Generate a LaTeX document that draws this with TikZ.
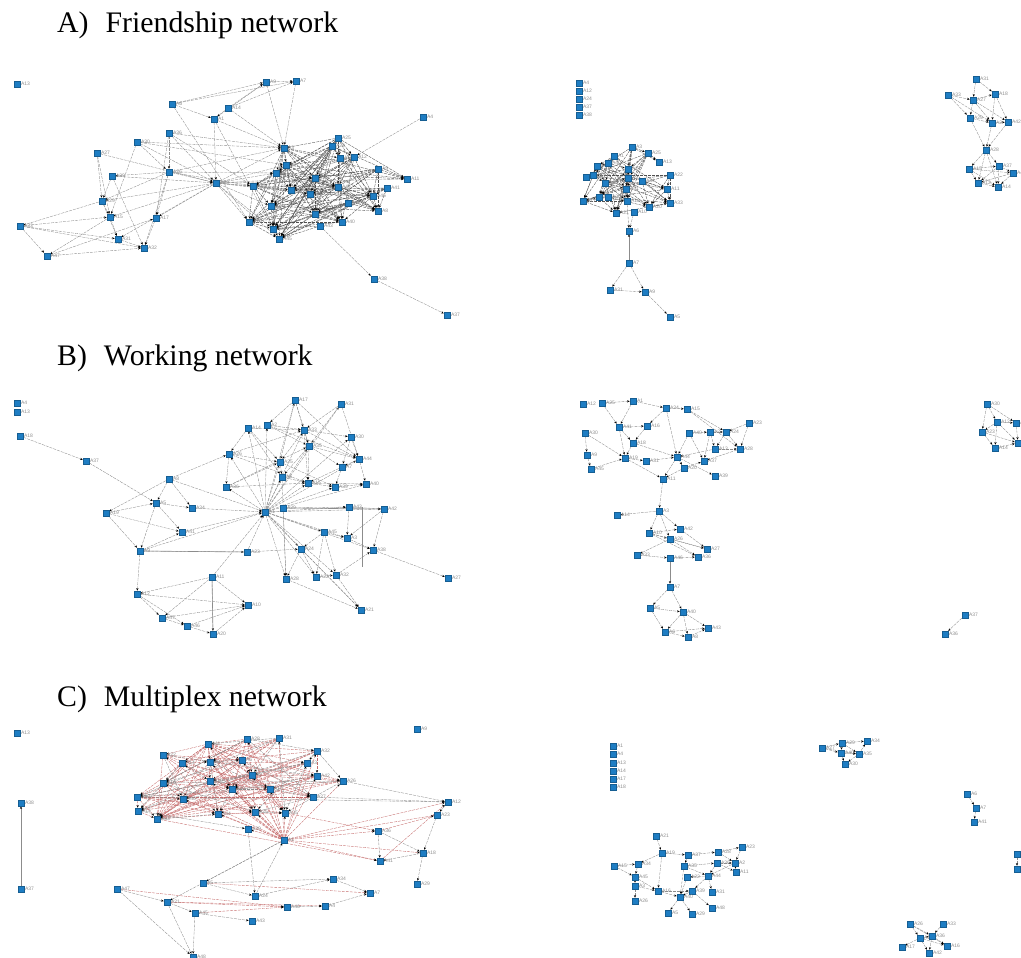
\documentclass[tikz,border=0pt]{standalone}
\usepackage{fontspec}
\setmainfont{Liberation Serif}
\setsansfont{Liberation Sans}
\usetikzlibrary{arrows.meta,backgrounds}
\definecolor{nb}{HTML}{1E7DC3}
\definecolor{eg}{HTML}{8C8C8C}
\definecolor{ek}{HTML}{505050}
\definecolor{er}{HTML}{C46A6A}
\definecolor{lg}{HTML}{8E8E8E}
\tikzset{
 nd/.style={rectangle,fill=nb,draw=nb!75!black,line width=0.2pt,minimum size=6.4pt,inner sep=0pt},
 lbl/.style={font=\sffamily\fontsize{5}{5.5}\selectfont,text=lg,inner sep=0.5pt},
 ed/.style={draw=eg,line width=0.35pt,dash pattern=on 3pt off 1pt,-{Stealth[length=2.6pt,width=2.2pt,color=black]}},
 edk/.style={ed,draw=ek},
 edr/.style={ed,draw=er},
 eds/.style={draw=eg,line width=0.7pt,-{Stealth[length=2.6pt,width=2.2pt,color=black]}},
 edl/.style={draw=eg,line width=0.6pt},
 ttl/.style={font=\fontsize{29.8}{34}\selectfont,inner sep=0pt,anchor=base west},
}
\newcommand\densecore[5]{%
 \foreach \u [count=\ci] in #1 {\foreach \v [count=\cj] in #1 {%
  \ifnum\cj>\ci\relax
   \pgfmathtruncatemacro\rr{mod(\ci*7+\cj*11+\ci*\cj+#5,#2)}%
   \ifnum\rr<#3\relax\draw[#4] (\u) -- (\v);\fi
  \fi}}}
\def\coreA{fa8,fa9,fa10,fa11,fa12,fa16,fa19,fa20,fa21,fa23,fa24,fa25,fa26,fa27,fa28,fa29,fa31,fa32,fa33,fa34,fa37,fa38,fa39,fa40,fa41}
\def\coreM{fm6,fm7,fm8,fm9,fm10,fm11,fm12,fm13,fm14,fm15,fm16,fm17,fm18,fm19,fm20,fm21,fm22,fm23,fm24,fm25,fm26,fm27,fm28}
\def\coreC{ma5,ma6,ma7,ma8,ma9,ma10,ma11,ma12,ma13,ma14,ma15,ma16,ma17,ma18,ma19,ma20,ma21,ma22,ma23,ma24,ma25,ma26,ma27,ma28}
\begin{document}
\begin{tikzpicture}[x=1pt,y=-1pt]
\useasboundingbox (0,0) rectangle (1021,958);
% titles
\node[ttl] (tA) at (57,32.5) {A)\hspace{17pt}Friendship network};
\node[ttl] (tB) at (57,365) {B)\hspace{17pt}Working network};
\node[ttl] (tC) at (57,706) {C)\hspace{17pt}Multiplex network};
% ---------------- A: friendship, left component
\foreach \n/\x/\y/\lb in {fa1/17/84/A13,fa2/266/82/A9,fa3/296/81/A7,fa4/172/104/A6,fa5/228/108/A14,fa6/214/119/A1,fa7/423/117/A4,fa8/338/138/A25,fa9/284/148/A3,fa10/332/146/A22,fa11/340/158/A10,fa12/354/157/A12,fa13/169/133/A36,fa14/137/142/A30,fa15/97/153/A27,fa16/286/165/A2,fa17/169/172/A26,fa18/112/176/A39,fa19/276/173/A21,fa20/378/169/A5,fa21/407/179/A11,fa22/216/183/A28,fa23/253/186/A35,fa24/315/178/A16,fa25/338/187/A44,fa26/387/188/A41,fa27/291/190/A18,fa28/310/194/A20,fa29/373/196/A46,fa30/102/201/A29,fa31/271/206/A24,fa32/348/203/A42,fa33/378/211/A8,fa34/315/214/A34,fa35/110/217/A15,fa36/156/218/A17,fa37/249/222/A19,fa38/342/222/A40,fa39/320/226/A43,fa40/273/229/A23,fa41/279/239/A45,fa42/20/226/A33,fa43/118/239/A31,fa44/144/248/A32,fa45/47/256/A47,fa46/374/279/A38,fa47/447/315/A37}
 \node[nd,label={[lbl]right:\lb}] (\n) at (\x,\y) {};
% A middle component
\foreach \n/\x/\y/\lb in {fm1/579/83/A4,fm2/579/91/A12,fm3/579/99/A24,fm4/579/107/A37,fm5/579/115/A38,fm6/632/147/A3,fm7/648/153/A25,fm8/614/156/A1,fm9/659/162/A13,fm10/597/166/A19,fm11/608/163/A40,fm12/628/169/A27,fm13/670/175/A22,fm14/586/177/A16,fm15/593/175/A15,fm16/605/183/A14,fm17/628/178/A2,fm18/642/181/A44,fm19/626/189/A41,fm20/667/189/A11,fm21/583/201/A17,fm22/599/197/A28,fm23/608/197/A30,fm24/627/201/A18,fm25/649/207/A20,fm26/670/203/A33,fm27/616/213/A21,fm28/634/212/A10,fm29/629/231/A6,fm30/629/263/A7,fm31/610/290/A31,fm32/645/292/A9,fm33/670/317/A5}
 \node[nd,label={[lbl]right:\lb}] (\n) at (\x,\y) {};
% A right component
\foreach \n/\x/\y/\lb in {fr1/976/79/A31,fr2/948/95/A33,fr3/973/100/A27,fr4/995/94/A18,fr5/970/118/A29,fr6/992/123/A2,fr7/1008/122/A42,fr8/986/150/A28,fr9/969/169/A15,fr10/999/166/A37,fr11/1013/173/A4,fr12/978/183/A12,fr13/998/187/A14}
 \node[nd,label={[lbl]right:\lb}] (\n) at (\x,\y) {};
% ---------------- B: working
\foreach \n/\x/\y/\lb in {wa1/17/403/A4,wa2/17/412/A13,wa3/20/436/A18,wa4/86/461/A37,wa5/295/400/A17,wa6/341/404/A31,wa7/248/428/A14,wa8/267/425/A2,wa9/304/430/A33,wa10/351/437/A30,wa11/309/446/A35,wa12/229/454/A26,wa13/359/459/A44,wa14/280/462/A25,wa15/342/467/A7,wa16/282/477/A6,wa17/226/487/A36,wa18/308/483/A15,wa19/335/487/A39,wa20/366/484/A40,wa21/169/479/A8,wa22/156/503/A5,wa23/106/513/A19,wa24/192/508/A34,wa25/265/512/A1,wa26/283/508/A29,wa27/349/507/A43,wa28/384/509/A42,wa29/182/532/A41,wa30/324/532/A45,wa31/347/538/A3,wa32/140/551/A9,wa33/247/552/A23,wa34/301/549/A24,wa35/373/550/A38,wa36/286/579/A28,wa37/316/577/A22,wa38/336/575/A32,wa39/448/578/A27,wa40/212/577/A11,wa41/137/594/A12,wa42/248/605/A10,wa43/361/610/A21,wa44/162/618/A47,wa45/187/626/A46,wa46/213/634/A20}
 \node[nd,label={[lbl]right:\lb}] (\n) at (\x,\y) {};
\foreach \n/\x/\y/\lb in {wm1/583/404/A12,wm2/602/403/A25,wm3/633/401/A1,wm4/666/408/A34,wm5/687/409/A15,wm6/749/423/A23,wm7/619/427/A41,wm8/647/426/A16,wm9/689/433/A40,wm10/710/432/A2,wm11/726/432/A24,wm12/585/433/A30,wm13/633/443/A18,wm14/715/449/A13,wm15/740/449/A28,wm16/587/455/A9,wm17/625/458/A19,wm18/646/461/A31,wm19/677/457/A44,wm20/704/461/A37,wm21/684/468/A20,wm22/591/469/A45,wm23/715/476/A39,wm24/663/479/A11,wm25/659/511/A3,wm26/617/515/A14,wm27/649/533/A10,wm28/680/529/A42,wm29/670/539/A26,wm30/707/549/A27,wm31/637/555/A33,wm32/670/558/A46,wm33/698/557/A36,wm34/670/587/A7,wm35/650/608/A5,wm36/683/612/A40,wm37/665/632/A6,wm38/688/637/A8,wm39/708/628/A43}
 \node[nd,label={[lbl]right:\lb}] (\n) at (\x,\y) {};
\foreach \n/\x/\y/\lb in {wr1/987/404/A30,wr2/997/422/A12,wr3/1016/423/A3,wr4/982/432/A23,wr5/1018/443/A31,wr6/995/448/A14,wr7/965/615/A37,wr8/945/634/A36}
 \node[nd,label={[lbl]right:\lb}] (\n) at (\x,\y) {};
% ---------------- C: multiplex
\foreach \n/\x/\y/\lb in {ma1/17/733/A13,ma2/417/729/A9,ma3/21/803/A38,ma4/21/889/A37,ma5/247/739/A28,ma6/279/738/A31,ma7/208/744/A11,ma8/163/755/A22,ma9/317/751/A32,ma10/182/763/A14,ma11/210/762/A8,ma12/242/760/A6,ma13/307/763/A3,ma14/252/775/A2,ma15/317/776/A42,ma16/163/783/A16,ma17/210/781/A19,ma18/232/789/A20,ma19/270/789/A10,ma20/343/781/A26,ma21/137/797/A30,ma22/183/799/A40,ma23/313/797/A27,ma24/138/811/A15,ma25/157/819/A33,ma26/218/814/A44,ma27/255/812/A25,ma28/285/813/A35,ma29/448/802/A12,ma30/437/815/A23,ma31/248/829/A39,ma32/284/840/A1,ma33/378/831/A36,ma34/423/853/A18,ma35/380/861/A41,ma36/417/884/A29,ma37/333/879/A34,ma38/203/883/A5,ma39/255/896/A24,ma40/370/893/A7,ma41/117/889/A47,ma42/167/902/A21,ma43/325/906/A4,ma44/195/913/A45,ma45/287/907/A46,ma46/252/921/A43,ma47/193/957/A48}
 \node[nd,label={[lbl]right:\lb}] (\n) at (\x,\y) {};
\foreach \n/\x/\y/\lb in {mm1/613/746/A1,mm2/613/754/A4,mm3/613/763/A13,mm4/613/771/A14,mm5/613/779/A17,mm6/613/787/A18,mm7/656/836/A21,mm8/662/853/A19,mm9/688/855/A37,mm10/718/852/A28,mm11/742/847/A23,mm12/614/866/A15,mm13/638/864/A34,mm14/684/866/A35,mm15/717/863/A36,mm16/735/863/A2,mm17/635/877/A45,mm18/687/877/A22,mm19/708/876/A44,mm20/736/872/A11,mm21/635/886/A3,mm22/658/891/A16,mm23/692/891/A39,mm24/680/897/A40,mm25/712/892/A31,mm26/635/901/A26,mm27/668/913/A5,mm28/692/914/A29,mm29/712/908/A48}
 \node[nd,label={[lbl]right:\lb}] (\n) at (\x,\y) {};
\foreach \n/\x/\y/\lb in {mt1/822/748/A27,mt2/842/743/A29,mt3/867/741/A34,mt4/841/753/A40,mt5/859/754/A35,mt6/845/764/A30,mr1/967/794/A6,mr2/976/808/A7,mr3/974/822/A41,mr4/1017/854/A9,mr5/1017/869/A10,mb1/910/924/A26,mb2/943/924/A33,mb3/920/938/A11,mb4/932/936/A36,mb5/947/946/A16,mb6/902/947/A17,mb7/929/953/A42}
 \node[nd,label={[lbl]right:\lb}] (\n) at (\x,\y) {};
\coordinate (wv1) at (362,507);
\coordinate (wv2) at (362,567);
% ================= edges
\begin{pgfonlayer}{background}
% A left
\densecore{\coreA}{5}{3}{edk}{0}
\foreach \s/\e in {fa4/fa2,fa4/fa3,fa5/fa2,fa5/fa3,fa6/fa2,fa2/fa3,fa2/fa9,fa3/fa9,fa4/fa6,fa4/fa37,fa6/fa22,fa6/fa9,fa5/fa9,fa6/fa40,fa5/fa6,fa13/fa22,fa13/fa36,fa13/fa9,fa14/fa9,fa14/fa35,fa15/fa22,fa15/fa30,fa17/fa22,fa17/fa18,fa17/fa30,fa17/fa44,fa18/fa44,fa18/fa30,fa22/fa30,fa22/fa35,fa22/fa43,fa22/fa36,fa22/fa23,fa22/fa9,fa22/fa19,fa22/fa37,fa22/fa16,fa22/fa24,fa22/fa27,fa22/fa28,fa22/fa21,fa22/fa31,fa22/fa41,fa22/fa40,fa30/fa35,fa30/fa42,fa30/fa43,fa35/fa43,fa35/fa45,fa42/fa44,fa42/fa43,fa42/fa45,fa45/fa44,fa43/fa44,fa42/fa35,fa36/fa44,fa45/fa36,fa7/fa12,fa39/fa46,fa46/fa47,fa17/fa9,fa14/fa17,fa15/fa35,fa17/fa19,fa17/fa23,fa17/fa36,fa14/fa22,fa13/fa17,fa18/fa22,fa13/fa23,fa14/fa16}
 \draw[ed] (\s) -- (\e);
% A middle
\densecore{\coreM}{5}{2}{edk}{0}
\foreach \s/\e in {fm28/fm29,fm24/fm29,fm30/fm31,fm30/fm32,fm31/fm32,fm32/fm33}
 \draw[ed] (\s) -- (\e);
\draw[eds] (fm30) -- (fm29);
% A right
\foreach \s/\e in {fr1/fr3,fr1/fr4,fr2/fr3,fr2/fr5,fr3/fr4,fr3/fr5,fr3/fr6,fr3/fr7,fr4/fr6,fr4/fr7,fr5/fr6,fr5/fr8,fr6/fr7,fr6/fr8,fr7/fr8,fr2/fr6,fr8/fr9,fr8/fr10,fr8/fr12,fr8/fr13,fr9/fr10,fr9/fr12,fr9/fr13,fr10/fr11,fr10/fr13,fr11/fr12,fr12/fr13,fr11/fr13,fr9/fr11,fr10/fr12}
 \draw[ed] (\s) -- (\e);
% B left
\foreach \s/\e in {wa3/wa4,wa4/wa22,wa21/wa23,wa21/wa22,wa21/wa24,wa21/wa25,wa23/wa22,wa23/wa29,wa23/wa32,wa22/wa24,wa22/wa29,wa22/wa32,wa24/wa25,wa29/wa25,wa32/wa29,wa32/wa25,wa32/wa33,wa32/wa41,wa33/wa25,wa33/wa34,wa40/wa25,wa40/wa41,wa40/wa42,wa40/wa46,wa40/wa44,wa41/wa44,wa41/wa45,wa41/wa42,wa44/wa45,wa44/wa42,wa45/wa46,wa45/wa42,wa46/wa42,wa25/wa5,wa25/wa7,wa25/wa8,wa25/wa9,wa25/wa11,wa25/wa12,wa25/wa14,wa25/wa16,wa25/wa17,wa25/wa18,wa25/wa19,wa25/wa13,wa25/wa10,wa25/wa20,wa25/wa27,wa25/wa28,wa25/wa30,wa25/wa31,wa25/wa34,wa25/wa36,wa25/wa37,wa25/wa38,wa25/wa35,wa25/wa43,wa25/wa6,wa5/wa8,wa5/wa9,wa5/wa11,wa5/wa14,wa6/wa9,wa6/wa11,wa7/wa9,wa7/wa12,wa7/wa14,wa8/wa9,wa8/wa13,wa9/wa10,wa9/wa13,wa9/wa11,wa9/wa14,wa9/wa18,wa10/wa13,wa11/wa13,wa11/wa15,wa11/wa18,wa11/wa16,wa12/wa14,wa12/wa17,wa12/wa18,wa13/wa20,wa13/wa15,wa14/wa16,wa14/wa19,wa15/wa18,wa15/wa19,wa16/wa18,wa17/wa14,wa17/wa18,wa18/wa19,wa18/wa20,wa19/wa20,wa10/wa15,wa7/wa16,wa6/wa13,wa8/wa11,wa5/wa13,wa12/wa9,wa17/wa11,wa26/wa27,wa27/wa28,wa27/wa31,wa30/wa31,wa30/wa37,wa30/wa38,wa31/wa35,wa28/wa35,wa28/wa31,wa35/wa39,wa30/wa34,wa34/wa36,wa34/wa37,wa36/wa43,wa37/wa38,wa38/wa35,wa38/wa43,wa34/wa43,wa26/wa36,wa16/wa36,wa21/wa12}
 \draw[ed] (\s) -- (\e);
\draw[edl] (wa26) -- (wa28);
\draw[edl] (wa32) -- (wa33);
\draw[edl] (wv1) -- (wv2);
\draw[edl] (wa40) -- (wa46);
% B middle
\foreach \s/\e in {wm2/wm3,wm2/wm7,wm3/wm4,wm3/wm7,wm4/wm5,wm4/wm8,wm4/wm19,wm5/wm11,wm7/wm8,wm7/wm13,wm7/wm17,wm12/wm16,wm12/wm17,wm16/wm22,wm22/wm17,wm13/wm17,wm13/wm19,wm17/wm18,wm17/wm24,wm9/wm20,wm9/wm19,wm10/wm11,wm10/wm14,wm10/wm20,wm11/wm14,wm11/wm15,wm6/wm15,wm6/wm11,wm14/wm15,wm14/wm19,wm15/wm20,wm19/wm21,wm19/wm23,wm19/wm24,wm21/wm20,wm21/wm24,wm24/wm25,wm25/wm26,wm25/wm27,wm25/wm28,wm25/wm29,wm27/wm28,wm27/wm29,wm27/wm30,wm29/wm30,wm29/wm31,wm29/wm33,wm31/wm32,wm32/wm33,wm27/wm33,wm28/wm30,wm34/wm35,wm34/wm36,wm35/wm36,wm35/wm37,wm36/wm37,wm36/wm38,wm36/wm39,wm37/wm38,wm37/wm39,wm38/wm39,wm18/wm19,wm5/wm15,wm8/wm13,wm9/wm10}
 \draw[ed] (\s) -- (\e);
\draw[eds] (wm32) -- (wm34);
% B right
\foreach \s/\e in {wr1/wr2,wr1/wr3,wr1/wr4,wr2/wr3,wr2/wr4,wr2/wr6,wr3/wr5,wr4/wr6,wr4/wr5,wr6/wr5,wr2/wr5,wr7/wr8}
 \draw[ed] (\s) -- (\e);
% C left
\densecore{\coreC}{7}{2}{edr}{0}
\densecore{\coreC}{7}{1}{ed}{3}
\foreach \s/\e in {ma32/ma5,ma32/ma6,ma32/ma7,ma32/ma9,ma32/ma10,ma32/ma11,ma32/ma12,ma32/ma13,ma32/ma14,ma32/ma15,ma32/ma17,ma32/ma18,ma32/ma19,ma32/ma20,ma32/ma22,ma32/ma26,ma32/ma27,ma32/ma28,ma32/ma29,ma32/ma30,ma32/ma33,ma32/ma35,ma32/ma34,ma32/ma31,ma32/ma8,ma32/ma16}
 \draw[edr] (\s) -- (\e);
\foreach \s/\e in {ma21/ma29,ma23/ma29,ma24/ma31,ma29/ma30,ma30/ma34,ma33/ma34,ma33/ma35,ma34/ma35,ma34/ma36,ma20/ma29,ma38/ma37,ma38/ma39,ma39/ma37,ma39/ma32,ma41/ma42,ma41/ma47,ma42/ma44,ma42/ma47,ma44/ma46,ma44/ma47,ma43/ma40,ma45/ma43,ma31/ma39,ma32/ma42,ma32/ma38,ma37/ma40,ma14/ma21,ma5/ma16,ma9/ma24}
 \draw[ed] (\s) -- (\e);
\foreach \s/\e in {ma38/ma40,ma41/ma45,ma42/ma45,ma44/ma45,ma42/ma43,ma33/ma30,ma35/ma29,ma28/ma33,ma25/ma35}
 \draw[edr] (\s) -- (\e);
\draw[eds] (ma4) -- (ma3);
% C middle
\foreach \s/\e in {mm7/mm8,mm8/mm9,mm8/mm13,mm8/mm22,mm9/mm10,mm9/mm14,mm10/mm11,mm10/mm16,mm11/mm16,mm12/mm13,mm12/mm17,mm13/mm17,mm17/mm21,mm21/mm22,mm21/mm26,mm22/mm24,mm14/mm15,mm14/mm19,mm14/mm24,mm15/mm19,mm15/mm16,mm16/mm19,mm16/mm20,mm15/mm20,mm19/mm23,mm19/mm25,mm23/mm24,mm24/mm27,mm24/mm28,mm23/mm29,mm19/mm18,mm18/mm24,mm22/mm23,mm17/mm22}
 \draw[ed] (\s) -- (\e);
% C right
\foreach \s/\e in {mt1/mt2,mt1/mt4,mt2/mt3,mt2/mt4,mt2/mt5,mt4/mt5,mt4/mt6,mt5/mt3,mt5/mt6,mt1/mt5,mr1/mr2,mr2/mr3,mr4/mr5,mb1/mb3,mb1/mb4,mb1/mb5,mb2/mb4,mb3/mb4,mb3/mb6,mb3/mb7,mb4/mb5,mb3/mb5,mb4/mb7}
 \draw[ed] (\s) -- (\e);
\end{pgfonlayer}
\end{tikzpicture}
\end{document}
